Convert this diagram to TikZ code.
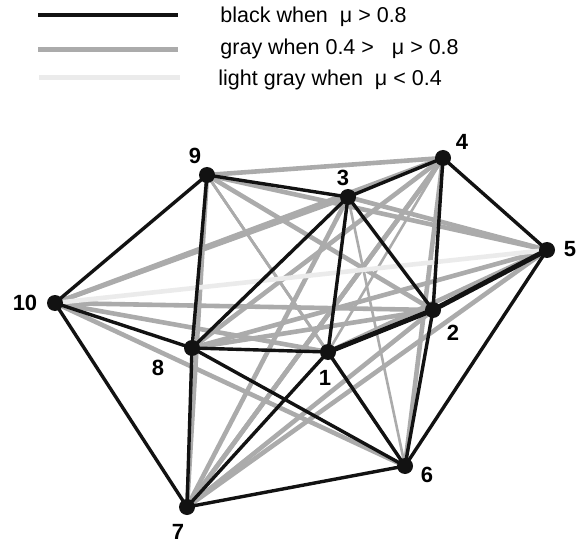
\documentclass[tikz,border=0pt]{standalone}
\usepackage{fontspec}
\setmainfont{Liberation Sans}
\begin{document}
\begin{tikzpicture}[x=1pt,y=-1pt,
  dot/.style={circle,fill=black!93,inner sep=0pt,minimum size=16pt},
  lbl/.style={font=\bfseries,scale=2.2,inner sep=0pt},
  legtxt/.style={scale=2.15,anchor=west,inner sep=0pt},
  blk/.style={draw=black!93,line width=3.4pt},
  blkk/.style={draw=black!93,line width=5pt},
  gry/.style={draw=black!33,line width=4.6pt},
  gryt/.style={draw=black!33,line width=2.6pt},
  lgry/.style={draw=black!8,line width=4.6pt}]
\useasboundingbox (0,0) rectangle (578,545);
% legend
\coordinate (la1) at (38,15); \coordinate (la2) at (178,15);
\coordinate (lb1) at (38,50); \coordinate (lb2) at (178,50);
\coordinate (lc1) at (39,78); \coordinate (lc2) at (180,78);
\draw[blk,line width=4pt] (la1) -- (la2);
\draw[gry,line width=5pt] (lb1) -- (lb2);
\draw[lgry,line width=5pt] (lc1) -- (lc2);
\node[legtxt] (ta) at (220,17) {black when \ μ > 0.8};
\node[legtxt] (tb) at (220,49) {gray when 0.4 > \ \ μ > 0.8};
\node[legtxt] (tc) at (218,80) {light gray when \ μ < 0.4};
% node coordinates
\coordinate (c1) at (328,352);
\coordinate (c2) at (433,310);
\coordinate (c3) at (348,197);
\coordinate (c4) at (443,158);
\coordinate (c5) at (547,250);
\coordinate (c6) at (405,466);
\coordinate (c7) at (187,507);
\coordinate (c8) at (192,348);
\coordinate (c9) at (207,175);
\coordinate (c10) at (55,303);
% gray edges
\foreach \a/\b in {9/4,10/4,10/3,9/5,3/5,4/6,10/2,10/6,8/5,8/2,7/3,7/4,7/5,7/2,4/8,1/10,7/9,1/5,2/9,4/7}
  \draw[gry] (c\a) -- (c\b);
\foreach \a/\b in {9/1,9/6,9/2,3/6,1/4,6/9,3/7}
  \draw[gryt] (c\a) -- (c\b);
% light gray
\draw[lgry] (c10) -- (c5);
% black edges
\foreach \a/\b in {9/10,9/8,9/3,3/4,4/5,5/6,4/2,2/6,3/2,3/1,3/8,10/8,10/7,8/7,8/1,8/6,1/6,1/7,7/6}
  \draw[blk] (c\a) -- (c\b);
\draw[blkk] (c1) -- (c2);
\draw[blkk] (c2) -- (c5);
% nodes
\foreach \i in {1,...,10} \node[dot] (n\i) at (c\i) {};
\node[lbl] (l1) at (325,378) {1};
\node[lbl] (l2) at (453,333) {2};
\node[lbl] (l3) at (343,178) {3};
\node[lbl] (l4) at (462,142) {4};
\node[lbl] (l5) at (570,249) {5};
\node[lbl] (l6) at (427,475) {6};
\node[lbl] (l7) at (178,532) {7};
\node[lbl] (l8) at (158,368) {8};
\node[lbl] (l9) at (195,156) {9};
\node[lbl] (l10) at (25,303) {10};
\end{tikzpicture}
\end{document}
